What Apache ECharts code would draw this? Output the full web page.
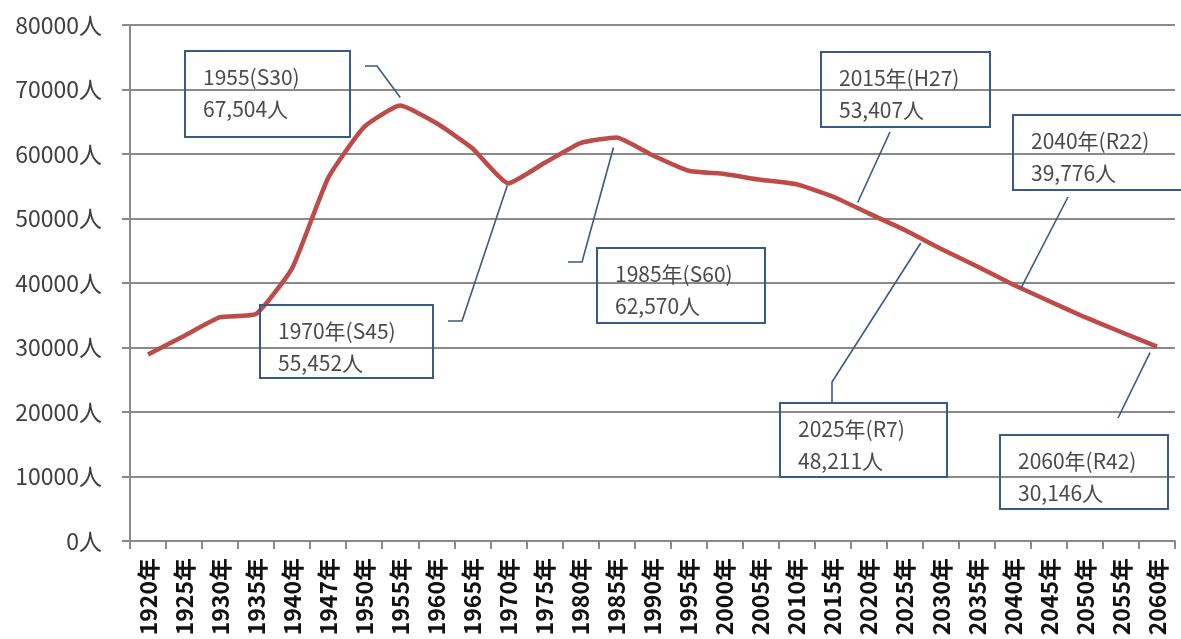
<!DOCTYPE html>
<html><head><meta charset="utf-8">
<script src="https://cdn.jsdelivr.net/npm/echarts@6/dist/echarts.min.js"></script>
<style>html,body{margin:0;padding:0;background:#fff}#c{width:1181px;height:639px}</style>
</head><body><div id="c"></div>
<script>
// ---- data ----
const categories = ['1920年','1925年','1930年','1935年','1940年','1947年','1950年','1955年','1960年','1965年','1970年','1975年','1980年','1985年','1990年','1995年','2000年','2005年','2010年','2015年','2020年','2025年','2030年','2035年','2040年','2045年','2050年','2055年','2060年'];
const population = [28900, 31800, 34700, 35200, 42300, 56300, 64200, 67504, 64800, 60900, 55452, 58600, 61700, 62570, 59800, 57400, 56900, 56000, 55300, 53407, 50800, 48211, 45300, 42600, 39776, 37200, 34700, 32400, 30146];
const yMin = 0, yMax = 80000, yStep = 10000;
const yUnit = '人';
const calloutCategories = ['1955年','1970年','1985年','2015年','2025年','2040年','2060年'];
const calloutTitles = ['1955(S30)','1970年(S45)','1985年(S60)','2015年(H27)','2025年(R7)','2040年(R22)','2060年(R42)'];
const calloutValues = ['67,504人','55,452人','62,570人','53,407人','48,211人','39,776人','30,146人'];

// ---- layout of callouts (pixels) ----
const calloutLayout = [
  {box:[185,51,165,86],  path:[[365,66],[377,66]], off:[0,-8]},
  {box:[260,305,173,73], path:[[448,321],[462,321]], off:[-1,2]},
  {box:[597,248,168,75], path:[[568,262],[582,262]], off:[-3,10]},
  {box:[821,52,169,75],  path:[[890,132]], off:[25,6]},
  {box:[780,403,167,74], path:[[832,402],[832,382]], off:[16,13]},
  {box:[1013,115,175,75],path:[[1068,197]], off:[8,4]},
  {box:[1000,435,168,74],path:[[1118,418]], off:[-7,6]}
];

const chart = echarts.init(document.getElementById('c'), null, {renderer:'canvas'});
const gridColor = '#8a8a8a';
chart.setOption({
  animation:false,
  backgroundColor:'#ffffff',
  grid:{left:130, right:6, top:25, bottom:98, containLabel:false},
  xAxis:{
    type:'category', data:categories, boundaryGap:true,
    axisLine:{show:true, lineStyle:{color:gridColor, width:2}},
    axisTick:{show:true, interval:0, length:8, alignWithLabel:false, lineStyle:{color:gridColor, width:2}},
    axisLabel:{interval:0, rotate:90, margin:17, fontSize:23, fontWeight:'bold', color:'#111', fontFamily:'"Noto Sans CJK JP", sans-serif'},
    splitLine:{show:false}
  },
  yAxis:{
    type:'value', min:yMin, max:yMax, interval:yStep,
    axisLine:{show:true, lineStyle:{color:gridColor, width:2}},
    axisTick:{show:true, length:8, lineStyle:{color:gridColor, width:2}},
    axisLabel:{margin:28, fontSize:23, color:'#404040', fontFamily:'"Noto Sans CJK JP", sans-serif', formatter:v => v + yUnit},
    splitLine:{show:true, lineStyle:{color:gridColor, width:2}}
  },
  series:[{
    type:'line', data:population, smooth:0.15, symbol:'none',
    lineStyle:{color:'#be4b48', width:4.5}, z:3
  }]
});

const boxColor = '#3a5a86';
const textFont = '21px "Noto Sans CJK JP", sans-serif';
const graphics = [];
calloutCategories.forEach((cat, i) => {
  const idx = categories.indexOf(cat);
  const p = chart.convertToPixel({seriesIndex:0}, [idx, population[idx]]);
  const L = calloutLayout[i];
  const [bx, by, bw, bh] = L.box;
  const pts = L.path.concat([[p[0] + L.off[0], p[1] + L.off[1]]]);
  graphics.push({type:'rect', shape:{x:bx, y:by, width:bw, height:bh}, style:{fill:null, stroke:boxColor, lineWidth:2}, z:10});
  graphics.push({type:'polyline', shape:{points:pts}, style:{fill:null, stroke:boxColor, lineWidth:1.6}, z:10});
  graphics.push({type:'text', x:bx + 18, y:by + 26, style:{text:calloutTitles[i], font:textFont, fill:'#4a4a4a', verticalAlign:'middle', align:'left'}, z:11});
  graphics.push({type:'text', x:bx + 18, y:by + 58, style:{text:calloutValues[i], font:textFont, fill:'#4a4a4a', verticalAlign:'middle', align:'left'}, z:11});
});
chart.setOption({graphic:graphics});
</script>
</body></html>
